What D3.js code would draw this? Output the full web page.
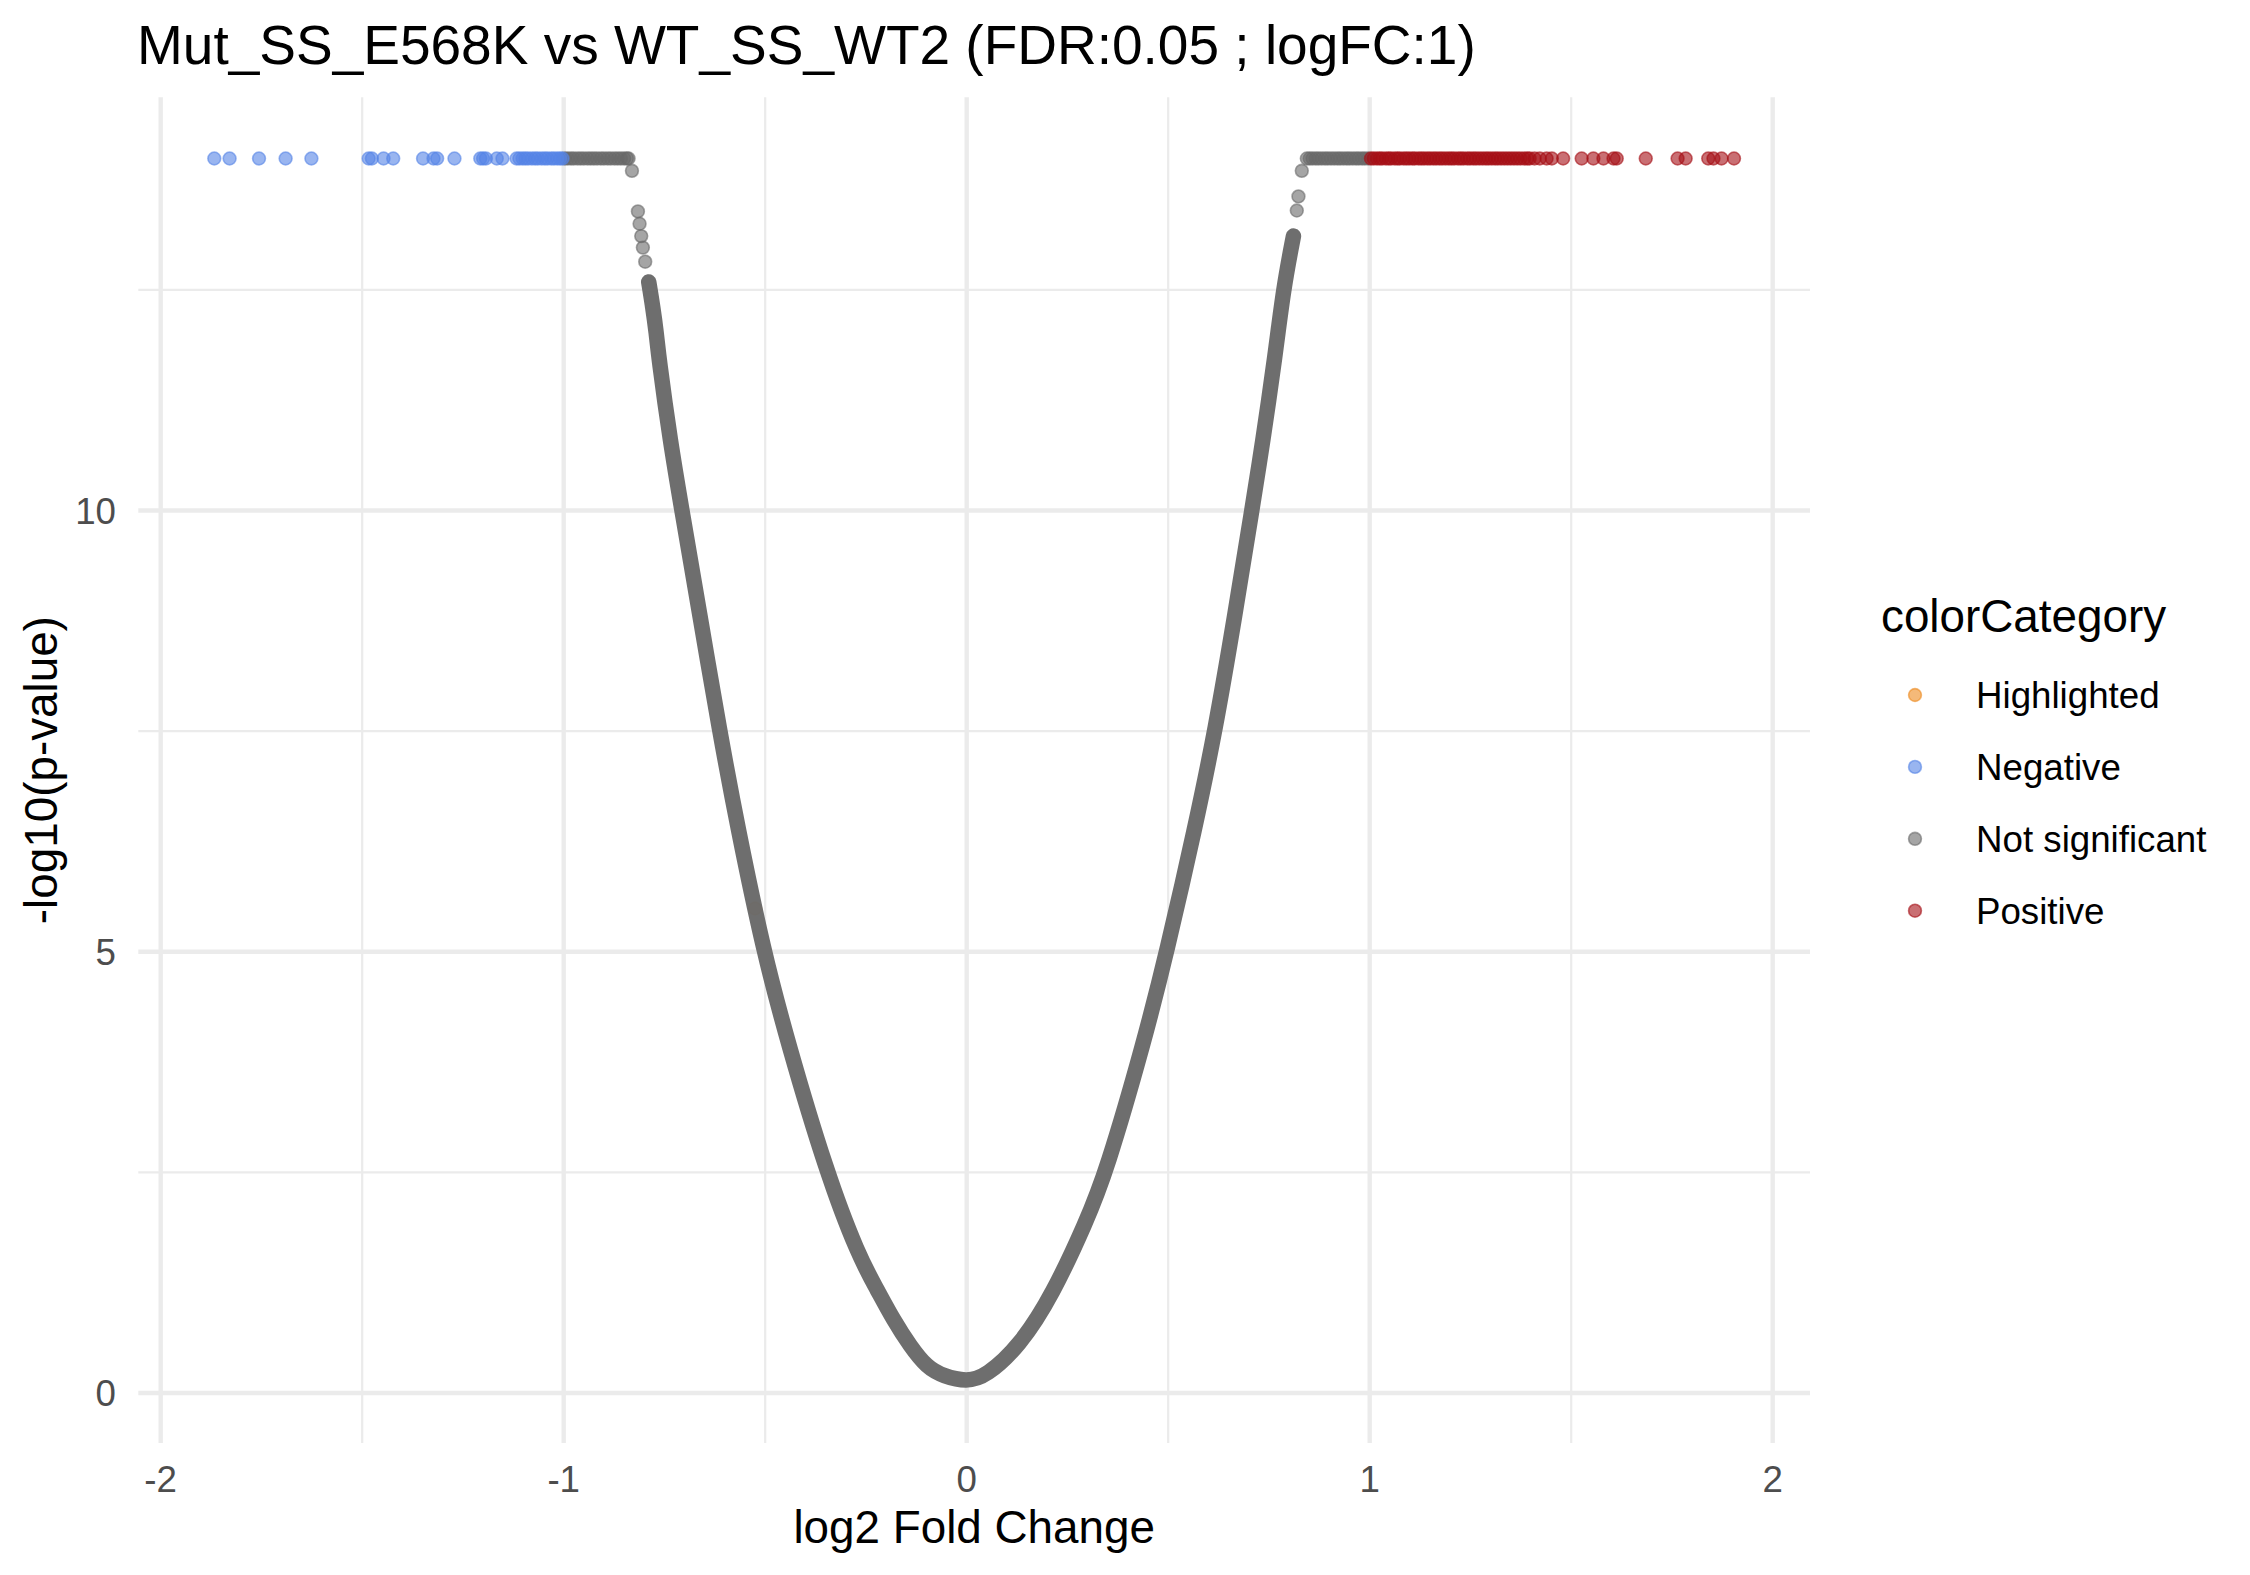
<!DOCTYPE html>
<html>
<head>
<meta charset="utf-8">
<script src="https://cdn.jsdelivr.net/npm/d3@7"></script>
<style>
  body { margin: 0; background: #fff; }
  text { font-family: "Liberation Sans", Arial, Helvetica, sans-serif; }
</style>
</head>
<body>
<svg width="2250" height="1575"></svg>
<script>
// values
const categories = ["Highlighted", "Negative", "Not significant", "Positive"]
const categoryColors = ["#ED8B1F", "#5584E6", "#696969", "#A50F15"]

const xTicks = [-2, -1, 0, 1, 2]
const xMinorTicks = [-1.5, -0.5, 0.5, 1.5]
const yTicks = [0, 5, 10]
const yMinorTicks = [2.5, 7.5, 12.5]

// -log10(p) where the p-values bottom out
const capValue = 13.99

const negativeLogFC = [-1.867, -1.829, -1.756, -1.690, -1.626, -1.484, -1.476, -1.447, -1.423,
    -1.349, -1.323, -1.314, -1.271, -1.207, -1.200, -1.193, -1.166, -1.152, -1.117, -1.110,
    -1.102, -1.095, -1.088, -1.079, -1.071, -1.064, -1.055, -1.047, -1.040, -1.031, -1.024,
    -1.016, -1.009, -1.003]

const positiveLogFC = [1.003, 1.010, 1.018, 1.025, 1.031, 1.040, 1.047, 1.053, 1.062, 1.069,
    1.075, 1.084, 1.091, 1.098, 1.106, 1.112, 1.121, 1.128, 1.135, 1.143, 1.150, 1.158, 1.165,
    1.173, 1.180, 1.188, 1.196, 1.203, 1.210, 1.219, 1.226, 1.233, 1.242, 1.249, 1.257, 1.264,
    1.272, 1.280, 1.288, 1.295, 1.303, 1.311, 1.318, 1.326, 1.334, 1.342, 1.350, 1.358, 1.366,
    1.374, 1.383, 1.391, 1.397, 1.409, 1.422, 1.439, 1.452, 1.480, 1.526, 1.555, 1.580, 1.605,
    1.613, 1.685, 1.764, 1.784, 1.840, 1.853, 1.873, 1.904]

const grayCapLeftLogFC = [-0.997, -0.990, -0.982, -0.975, -0.966, -0.958, -0.950, -0.941, -0.933,
    -0.925, -0.917, -0.908, -0.900, -0.891, -0.883, -0.874, -0.866, -0.858, -0.850, -0.843, -0.839]
const grayCapRightLogFC = [0.844, 0.851, 0.858, 0.866, 0.873, 0.881, 0.889, 0.896, 0.904, 0.912,
    0.920, 0.927, 0.935, 0.943, 0.950, 0.958, 0.966, 0.973, 0.981, 0.988, 0.996]

// loose gray points just under the cap
const looseLogFC = [-0.8306, -0.8158, -0.8117, -0.8076, -0.8035, -0.7977, 0.8191, 0.8232, 0.8315]
const looseP = [13.85, 13.39, 13.25, 13.11, 12.98, 12.82, 13.40, 13.56, 13.85]

// the dense run of not significant genes along the V
const curveLogFC = [-0.789, -0.779, -0.770, -0.7646, -0.7355, -0.7066, -0.6627, -0.6131, -0.5684,
    -0.5039, -0.4444, -0.348, -0.2682, -0.222, -0.1815, -0.140, -0.0988, -0.0575, 0,
    0.0485, 0.1312, 0.2139, 0.2966, 0.346, 0.4403, 0.4966, 0.5669, 0.6165, 0.6661, 0.7075,
    0.7347, 0.7653, 0.786, 0.8108]
const curveP = [12.59, 12.31, 12.01, 11.75, 10.78, 10.0, 8.83, 7.5, 6.41,
    5.0, 3.98, 2.5, 1.55, 1.17, 0.825, 0.53, 0.29, 0.19, 0.126,
    0.19, 0.53, 1.12, 1.94, 2.5, 3.98, 5.0, 6.41, 7.5, 8.83, 10.0,
    10.78, 11.75, 12.52, 13.11]

const highlightedLogFC = [-0.525]
const highlightedP = [5.49]

window.addEventListener('load', () => {
    main()
})

function main() {
    const svg = d3.select("svg")
    const panel = {left: 138.3, right: 1810, top: 97.3, bottom: 1443}

    const allX = negativeLogFC.concat(positiveLogFC, curveLogFC)
    const allY = curveP.concat([capValue])
    const [x0, x1] = d3.extent(allX)
    const [y0, y1] = d3.extent(allY)
    const padX = (x1 - x0) * 0.05, padY = (y1 - y0) * 0.05

    const x = d3.scaleLinear().domain([x0 - padX, x1 + padX]).range([panel.left, panel.right])
    const y = d3.scaleLinear().domain([y0 - padY, y1 + padY]).range([panel.bottom, panel.top])
    const color = d3.scaleOrdinal().domain(categories).range(categoryColors)

    // grid
    const grid = svg.append("g").attr("stroke", "#EBEBEB")
    grid.selectAll(".xminor").data(xMinorTicks).enter().append("line")
        .attr("x1", d => x(d)).attr("x2", d => x(d))
        .attr("y1", panel.top).attr("y2", panel.bottom).attr("stroke-width", 2.2)
    grid.selectAll(".yminor").data(yMinorTicks).enter().append("line")
        .attr("y1", d => y(d)).attr("y2", d => y(d))
        .attr("x1", panel.left).attr("x2", panel.right).attr("stroke-width", 2.2)
    grid.selectAll(".xmajor").data(xTicks).enter().append("line")
        .attr("x1", d => x(d)).attr("x2", d => x(d))
        .attr("y1", panel.top).attr("y2", panel.bottom).attr("stroke-width", 4.4)
    grid.selectAll(".ymajor").data(yTicks).enter().append("line")
        .attr("y1", d => y(d)).attr("y2", d => y(d))
        .attr("x1", panel.left).attr("x2", panel.right).attr("stroke-width", 4.4)

    const dot = (sel, cat) => sel
        .attr("r", 6.4)
        .attr("fill", color(cat)).attr("fill-opacity", 0.6)
        .attr("stroke", color(cat)).attr("stroke-opacity", 0.6).attr("stroke-width", 1.6)

    const pts = svg.append("g")

    // highlighted point, mostly hidden under the gray run
    pts.selectAll(".hl").data(highlightedLogFC).enter().append("circle")
        .attr("cx", d => x(d)).attr("cy", (d, i) => y(highlightedP[i]))
        .call(dot, "Highlighted")

    // dense gray band: a smoothed line through the read points
    const curvePts = curveLogFC.map((d, i) => [d, curveP[i]])
    const line = d3.line().curve(d3.curveBasis).x(d => x(d[0])).y(d => y(d[1]))
    pts.append("path").attr("d", line(curvePts))
        .attr("fill", "none").attr("stroke", color("Not significant"))
        .attr("stroke-width", 15.5).attr("stroke-linecap", "round").attr("stroke-opacity", 0.97)

    pts.selectAll(".loose").data(looseLogFC).enter().append("circle")
        .attr("cx", d => x(d)).attr("cy", (d, i) => y(looseP[i]))
        .call(dot, "Not significant")
    pts.selectAll(".gcap").data(grayCapLeftLogFC.concat(grayCapRightLogFC)).enter().append("circle")
        .attr("cx", d => x(d)).attr("cy", y(capValue))
        .call(dot, "Not significant")

    pts.selectAll(".neg").data(negativeLogFC).enter().append("circle")
        .attr("cx", d => x(d)).attr("cy", y(capValue))
        .call(dot, "Negative")
    pts.selectAll(".pos").data(positiveLogFC).enter().append("circle")
        .attr("cx", d => x(d)).attr("cy", y(capValue))
        .call(dot, "Positive")

    // tick labels
    svg.append("g").selectAll("text").data(xTicks).enter().append("text")
        .attr("x", d => x(d)).attr("y", 1492)
        .attr("text-anchor", "middle").attr("font-size", 36.7).attr("fill", "#4D4D4D")
        .text(d => d)
    svg.append("g").selectAll("text").data(yTicks).enter().append("text")
        .attr("x", 116).attr("y", d => y(d) + 13)
        .attr("text-anchor", "end").attr("font-size", 36.7).attr("fill", "#4D4D4D")
        .text(d => d)

    // titles
    svg.append("text").attr("x", 137).attr("y", 63.5)
        .attr("font-size", 55).attr("fill", "#000")
        .text("Mut_SS_E568K vs WT_SS_WT2 (FDR:0.05 ; logFC:1)")
    svg.append("text").attr("x", (panel.left + panel.right) / 2).attr("y", 1543)
        .attr("text-anchor", "middle").attr("font-size", 45.8).attr("fill", "#000")
        .text("log2 Fold Change")
    svg.append("text")
        .attr("transform", "translate(57," + (panel.top + panel.bottom) / 2 + ") rotate(-90)")
        .attr("text-anchor", "middle").attr("font-size", 45.8).attr("fill", "#000")
        .text("-log10(p-value)")

    // legend
    const legend = svg.append("g")
    legend.append("text").attr("x", 1881).attr("y", 632)
        .attr("font-size", 45.8).attr("fill", "#000").text("colorCategory")
    const item = legend.selectAll(".item").data(categories).enter().append("g")
        .attr("transform", (d, i) => "translate(0," + (695 + i * 71.9) + ")")
    item.append("circle").attr("cx", 1915).attr("cy", 0)
        .each(function(d) { d3.select(this).call(dot, d) })
    item.append("text").attr("x", 1976).attr("y", 12.8)
        .attr("font-size", 36.7).attr("fill", "#000").text(d => d)
}
</script>
</body>
</html>
